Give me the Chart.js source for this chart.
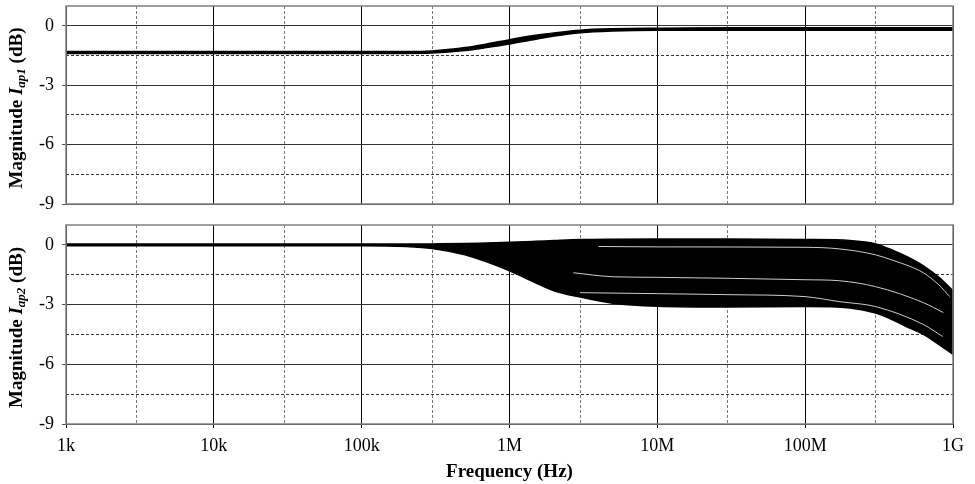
<!DOCTYPE html>
<html lang="en">
<head>
    <meta charset="UTF-8">
    <title>Magnitude Iap1 / Iap2</title>
    <script src="https://cdn.jsdelivr.net/npm/chart.js"></script>
    <style>
        body {
            margin: 0;
            background: #fff;
            width: 975px;
            height: 484px;
            position: relative;
            overflow: hidden;
        }

        canvas {
            position: absolute;
            left: 0;
        }

        #topChart {
            top: 0;
        }

        #bottomChart {
            top: 215px;
        }
    </style>
</head>

<body>
    <canvas id="topChart" width="975" height="215"></canvas>
    <canvas id="bottomChart" width="975" height="269"></canvas>

    <script>
        // Data (frequency in Hz, magnitude in dB)
        const freqTop = [1e3, 1e4, 1e5, 2e5, 3e5, 5e5, 7e5, 1e6, 1.5e6, 2e6, 3e6, 5e6, 1e7, 3e7, 1e8, 1e9];
        const ap1Lower = [-1.4, -1.4, -1.4, -1.4, -1.38, -1.25, -1.1, -0.92, -0.68, -0.52, -0.35, -0.26, -0.22, -0.22, -0.22, -0.22];
        const ap1Upper = [-1.3, -1.3, -1.3, -1.3, -1.27, -1.1, -0.92, -0.7, -0.48, -0.36, -0.22, -0.15, -0.12, -0.1, -0.1, -0.1];

        const freqBottom = [1e3, 1e4, 1e5, 2e5, 3e5, 5e5, 7e5, 1e6, 1.5e6, 2e6, 3e6, 5e6, 1e7, 3e7, 1e8, 2e8, 3e8, 4e8, 5e8, 6.3e8, 8e8, 1e9];
        const ap2Lower = [-0.04, -0.04, -0.04, -0.08, -0.18, -0.5, -0.85, -1.3, -1.9, -2.3, -2.62, -2.93, -3.08, -3.12, -3.1, -3.17, -3.42, -3.8, -4.15, -4.5, -5.0, -5.5];
        const ap2Upper = [0.04, 0.04, 0.04, 0.04, 0.05, 0.07, 0.1, 0.13, 0.18, 0.22, 0.27, 0.29, 0.3, 0.3, 0.27, 0.22, 0.05, -0.3, -0.63, -1.05, -1.62, -2.3];

        // gaps (white traces) inside the Iap2 band
        const gap1Freq = [4e6, 1e7, 1e8, 1.7e8, 3e8, 4e8, 5e8, 6.3e8, 8e8, 9.5e8];
        const gap1Vals = [-0.08, -0.1, -0.12, -0.2, -0.5, -0.8, -1.05, -1.4, -2.0, -2.6];
        const gap2Freq = [2.7e6, 5e6, 1e7, 1e8, 1.7e8, 3e8, 6.3e8, 8.6e8];
        const gap2Vals = [-1.4, -1.6, -1.63, -1.75, -1.8, -2.1, -2.9, -3.4];
        const gap3Freq = [3e6, 1e7, 3e7, 1e8, 1.7e8, 3e8, 6.3e8, 8.5e8];
        const gap3Vals = [-2.4, -2.45, -2.5, -2.6, -2.85, -3.1, -4.0, -4.6];

        // Axes
        const xTickValues = [1e3, 1e4, 1e5, 1e6, 1e7, 1e8, 1e9];
        const xTickLabels = ['1k', '10k', '100k', '1M', '10M', '100M', '1G'];
        const xMinorValues = [3e3, 3e4, 3e5, 3e6, 3e7, 3e8];
        const yTickValues = [0, -3, -6, -9];
        const yMinorValues = [-1.5, -4.5, -7.5];

        Chart.defaults.font.family = "'Liberation Serif', 'Times New Roman', serif";
        Chart.defaults.color = '#000';

        function pts(xs, ys) {
            return xs.map((x, i) => ({ x: x, y: ys[i] }));
        }

        // plot frame in grey
        const frame = {
            id: 'frame',
            afterDatasetsDraw(chart) {
                const a = chart.chartArea;
                const ctx = chart.ctx;
                ctx.save();
                ctx.strokeStyle = '#808080';
                ctx.lineWidth = 1.5;
                ctx.strokeRect(a.left, a.top, a.right - a.left, a.bottom - a.top);
                ctx.restore();
            }
        };

        // y title with italic I and subscript
        const yTitle = {
            id: 'yTitle',
            afterDraw(chart, args, opts) {
                const ctx = chart.ctx;
                const a = chart.chartArea;
                const fam = "'Liberation Serif', serif";
                const parts = [
                    { t: 'Magnitude ', f: 'bold 19px ' + fam, dy: 0 },
                    { t: 'I', f: 'italic bold 19px ' + fam, dy: 0 },
                    { t: opts.sub, f: 'italic bold 13px ' + fam, dy: 5 },
                    { t: ' (dB)', f: 'bold 19px ' + fam, dy: 0 }
                ];
                ctx.save();
                let total = 0;
                parts.forEach(p => {
                    ctx.font = p.f;
                    p.w = ctx.measureText(p.t).width;
                    total += p.w;
                });
                ctx.translate(opts.x, (a.top + a.bottom) / 2 + 3);
                ctx.rotate(-Math.PI / 2);
                ctx.fillStyle = '#000';
                ctx.textBaseline = 'middle';
                ctx.textAlign = 'left';
                let x = -total / 2;
                parts.forEach(p => {
                    ctx.font = p.f;
                    ctx.fillText(p.t, x, p.dy);
                    x += p.w;
                });
                ctx.restore();
            }
        };

        function makeScales(showX) {
            return {
                x: {
                    type: 'logarithmic',
                    min: 1e3,
                    max: 1e9,
                    afterBuildTicks: (axis) => {
                        axis.ticks = xTickValues.map(v => ({ value: v, major: true }));
                    },
                    afterFit: (axis) => {
                        axis.height = showX ? 60 : 11;
                        axis.paddingLeft = 0;
                        axis.paddingRight = 0;
                    },
                    grid: {
                        color: '#000',
                        lineWidth: 1,
                        drawTicks: showX,
                        tickLength: 4
                    },
                    border: { display: false },
                    ticks: {
                        display: showX,
                        autoSkip: false,
                        maxRotation: 0,
                        padding: 7,
                        font: { size: 18 },
                        callback: (value, index) => xTickLabels[index]
                    },
                    title: {
                        display: showX,
                        text: 'Frequency (Hz)',
                        font: { size: 19, weight: 'bold' },
                        padding: { top: 0, bottom: 1 }
                    }
                },
                x2: {
                    type: 'logarithmic',
                    position: 'bottom',
                    min: 1e3,
                    max: 1e9,
                    afterBuildTicks: (axis) => {
                        axis.ticks = xMinorValues.map(v => ({ value: v }));
                    },
                    afterFit: (axis) => {
                        axis.height = 0;
                        axis.paddingLeft = 0;
                        axis.paddingRight = 0;
                    },
                    grid: { color: '#777', lineWidth: 1, drawTicks: false },
                    border: { display: false, dash: [3, 2] },
                    ticks: { display: false }
                },
                y: {
                    type: 'linear',
                    min: -9,
                    max: 1,
                    afterBuildTicks: (axis) => {
                        axis.ticks = yTickValues.map(v => ({ value: v }));
                    },
                    afterFit: (axis) => {
                        axis.width = 66;
                        axis.paddingTop = 0;
                        axis.paddingBottom = 0;
                    },
                    grid: { color: '#333', lineWidth: 1, tickLength: 4, tickColor: '#555' },
                    border: { display: false },
                    ticks: {
                        padding: 8,
                        font: { size: 18 },
                        callback: (value) => String(value)
                    }
                },
                y2: {
                    type: 'linear',
                    position: 'left',
                    min: -9,
                    max: 1,
                    afterBuildTicks: (axis) => {
                        axis.ticks = yMinorValues.map(v => ({ value: v }));
                    },
                    afterFit: (axis) => {
                        axis.width = 0;
                        axis.paddingTop = 0;
                        axis.paddingBottom = 0;
                    },
                    grid: { color: '#333', lineWidth: 1, drawTicks: false },
                    border: { display: false, dash: [3, 2] },
                    ticks: { display: false }
                }
            };
        }

        const lineBase = {
            pointRadius: 0,
            borderWidth: 1.5,
            cubicInterpolationMode: 'monotone',
            borderColor: '#000',
            backgroundColor: '#000'
        };

        const gapBase = {
            pointRadius: 0,
            borderWidth: 0.8,
            cubicInterpolationMode: 'monotone',
            borderColor: '#fff',
            fill: false
        };

        // Top: Iap1
        new Chart(document.getElementById('topChart'), {
            type: 'line',
            data: {
                datasets: [
                    Object.assign({ label: 'Iap1 lower', data: pts(freqTop, ap1Lower), fill: false }, lineBase),
                    Object.assign({ label: 'Iap1 upper', data: pts(freqTop, ap1Upper), fill: '-1' }, lineBase)
                ]
            },
            options: {
                responsive: false,
                animation: false,
                devicePixelRatio: 1,
                layout: { padding: { left: 0, top: 6, right: 22, bottom: 0 } },
                plugins: {
                    legend: { display: false },
                    tooltip: { enabled: false },
                    yTitle: { sub: 'ap1', x: 17 }
                },
                scales: makeScales(false)
            },
            plugins: [frame, yTitle]
        });

        // Bottom: Iap2
        new Chart(document.getElementById('bottomChart'), {
            type: 'line',
            data: {
                datasets: [
                    Object.assign({ label: 'gap 1', data: pts(gap1Freq, gap1Vals) }, gapBase),
                    Object.assign({ label: 'gap 2', data: pts(gap2Freq, gap2Vals) }, gapBase),
                    Object.assign({ label: 'gap 3', data: pts(gap3Freq, gap3Vals) }, gapBase),
                    Object.assign({ label: 'Iap2 lower', data: pts(freqBottom, ap2Lower), fill: false }, lineBase),
                    Object.assign({ label: 'Iap2 upper', data: pts(freqBottom, ap2Upper), fill: '-1' }, lineBase)
                ]
            },
            options: {
                responsive: false,
                animation: false,
                devicePixelRatio: 1,
                layout: { padding: { left: 0, top: 10, right: 22, bottom: 0 } },
                plugins: {
                    legend: { display: false },
                    tooltip: { enabled: false },
                    yTitle: { sub: 'ap2', x: 17 }
                },
                scales: makeScales(true)
            },
            plugins: [frame, yTitle]
        });
    </script>
</body>

</html>
